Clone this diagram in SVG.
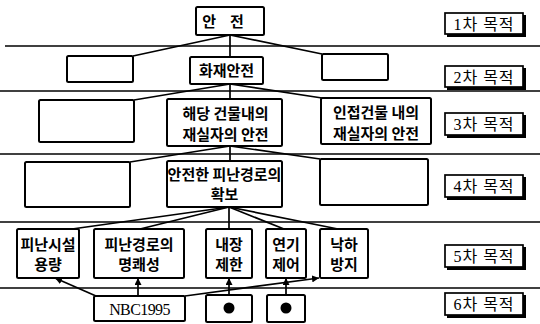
<svg xmlns="http://www.w3.org/2000/svg" width="540" height="324" viewBox="0 0 540 324">
<defs>
<marker id="ah" viewBox="0 0 10 10" refX="10" refY="5" markerWidth="7" markerHeight="7" markerUnits="userSpaceOnUse" orient="auto">
<path d="M0,0 L10,5 L0,10 Z" fill="#000"/>
</marker>
</defs>
<style>
.box{fill:#fff;stroke:#000;stroke-width:2}
.lbl{fill:#fff;stroke:#000;stroke-width:1.7}
.sh{fill:none;stroke:#000;stroke-width:3}
.ln{stroke:#000;stroke-width:1.7;fill:none}
.sep{stroke:#000;stroke-width:1.6}
.t{font-family:"Noto Sans CJK KR","Noto Sans",sans-serif;font-size:15px;font-weight:bold;text-anchor:middle;fill:#000}
.l{font-family:"Liberation Serif","Noto Sans CJK KR",serif;font-size:16px;text-anchor:middle;fill:#000;letter-spacing:1px}
.n{font-family:"Liberation Serif",serif;font-size:16px;text-anchor:middle;fill:#000;letter-spacing:-0.6px}
</style>
<rect width="540" height="324" fill="#fff"/>
<g id="separators">
<line class="sep" x1="5" y1="46" x2="540" y2="46"/>
<line class="sep" x1="0" y1="91" x2="540" y2="91"/>
<line class="sep" x1="0" y1="154" x2="540" y2="154"/>
<line class="sep" x1="0" y1="222" x2="540" y2="222"/>
<line class="sep" x1="0" y1="288" x2="540" y2="288"/>
</g>
<g id="connectors">
<line class="ln" x1="230" y1="35" x2="133" y2="56"/>
<line class="ln" x1="230" y1="35" x2="230" y2="57"/>
<line class="ln" x1="230" y1="35" x2="322" y2="54"/>
<line class="ln" x1="230" y1="84" x2="134" y2="100"/>
<line class="ln" x1="230" y1="84" x2="230" y2="99"/>
<line class="ln" x1="230" y1="84" x2="322" y2="98"/>
<line class="ln" x1="230" y1="146" x2="130" y2="162"/>
<line class="ln" x1="230" y1="146" x2="230" y2="161"/>
<line class="ln" x1="230" y1="146" x2="320" y2="159"/>
<line class="ln" x1="229" y1="207" x2="72" y2="229"/>
<line class="ln" x1="229" y1="207" x2="140" y2="229"/>
<line class="ln" x1="229" y1="207" x2="229" y2="229"/>
<line class="ln" x1="229" y1="207" x2="284" y2="229"/>
<line class="ln" x1="229" y1="207" x2="338" y2="229"/>
<line class="ln" x1="96" y1="296" x2="55" y2="278" marker-end="url(#ah)"/>
<line class="ln" x1="138" y1="296" x2="138" y2="278" marker-end="url(#ah)"/>
<line class="ln" x1="185" y1="296" x2="319" y2="278" marker-end="url(#ah)"/>
<line class="ln" x1="229" y1="295" x2="229" y2="278" marker-end="url(#ah)"/>
<line class="ln" x1="286" y1="295" x2="286" y2="278" marker-end="url(#ah)"/>
</g>
<g id="n-anjeon"><rect class="box" x="196" y="7" width="68" height="28" rx="1.5"/><text class="t" x="230" y="27" font-size="16" letter-spacing="14px">안전</text></g>
<g id="n-empty2l"><rect class="box" x="67" y="56" width="66" height="26" rx="1.5"/></g>
<g id="n-fire"><rect class="box" x="190" y="57" width="73" height="27" rx="1.5"/><text class="t" x="226.5" y="76">화재안전</text></g>
<g id="n-empty2r"><rect class="box" x="322" y="54" width="66" height="26" rx="1.5"/></g>
<g id="n-empty3l"><rect class="box" x="39" y="100" width="95" height="42" rx="1.5"/></g>
<g id="n-occupant"><rect class="box" x="167" y="99" width="115" height="47" rx="1.5"/><text class="t" x="225.5" y="119">해당 건물내의</text><text class="t" x="225.5" y="140">재실자의 안전</text></g>
<g id="n-adjacent"><rect class="box" x="321" y="98" width="110" height="46" rx="1.5"/><text class="t" x="376" y="118" font-size="14.5">인접건물 내의</text><text class="t" x="376" y="139" font-size="14.5">재실자의 안전</text></g>
<g id="n-empty4l"><rect class="box" x="25" y="162" width="105" height="45" rx="1.5"/></g>
<g id="n-route"><rect class="box" x="167" y="161" width="115" height="46" rx="1.5"/><text class="t" x="224.5" y="180" font-size="13.5">안전한 피난경로의</text><text class="t" x="224.5" y="200" font-size="13.5">확보</text></g>
<g id="n-empty4r"><rect class="box" x="320" y="159" width="108" height="46" rx="1.5"/></g>
<g id="n-capacity"><rect class="box" x="17" y="229" width="62" height="49" rx="1.5"/><text class="t" x="48" y="250" font-size="14.5">피난시설</text><text class="t" x="48" y="270">용량</text></g>
<g id="n-clarity"><rect class="box" x="94" y="229" width="90" height="49" rx="1.5"/><text class="t" x="139" y="250">피난경로의</text><text class="t" x="139" y="270">명쾌성</text></g>
<g id="n-interior"><rect class="box" x="206" y="229" width="46" height="49" rx="1.5"/><text class="t" x="229" y="250">내장</text><text class="t" x="229" y="270">제한</text></g>
<g id="n-smoke"><rect class="box" x="266" y="229" width="40" height="49" rx="1.5"/><text class="t" x="286" y="250">연기</text><text class="t" x="286" y="270">제어</text></g>
<g id="n-fall"><rect class="box" x="320" y="229" width="48" height="49" rx="1.5"/><text class="t" x="344" y="250">낙하</text><text class="t" x="344" y="270">방지</text></g>
<g id="n-nbc"><rect class="box" x="94" y="296" width="91" height="25" rx="1.5"/><text class="n" x="139.5" y="315">NBC1995</text></g>
<g id="n-dot1"><rect class="box" x="206" y="295" width="46" height="27" rx="1.5"/><circle cx="229" cy="308" r="5.5" fill="#000"/></g>
<g id="n-dot2"><rect class="box" x="267" y="295" width="38" height="27" rx="1.5"/><circle cx="286" cy="308" r="5.5" fill="#000"/></g>
<g id="lbl1"><rect class="lbl" x="445" y="13" width="78" height="21"/><path class="sh" d="M447,35.5 H524.5 V15"/><text class="l" x="484" y="29.5">1차 목적</text></g>
<g id="lbl2"><rect class="lbl" x="445" y="66" width="78" height="21"/><path class="sh" d="M447,88.5 H524.5 V68"/><text class="l" x="484" y="82.5">2차 목적</text></g>
<g id="lbl3"><rect class="lbl" x="445" y="113" width="78" height="22"/><path class="sh" d="M447,136.5 H524.5 V115"/><text class="l" x="484" y="130">3차 목적</text></g>
<g id="lbl4"><rect class="lbl" x="445" y="175" width="78" height="22"/><path class="sh" d="M447,198.5 H524.5 V177"/><text class="l" x="484" y="192">4차 목적</text></g>
<g id="lbl5"><rect class="lbl" x="445" y="245" width="78" height="22"/><path class="sh" d="M447,268.5 H524.5 V247"/><text class="l" x="484" y="262">5차 목적</text></g>
<g id="lbl6"><rect class="lbl" x="445" y="293" width="78" height="22"/><path class="sh" d="M447,316.5 H524.5 V295"/><text class="l" x="484" y="310">6차 목적</text></g>
</svg>
